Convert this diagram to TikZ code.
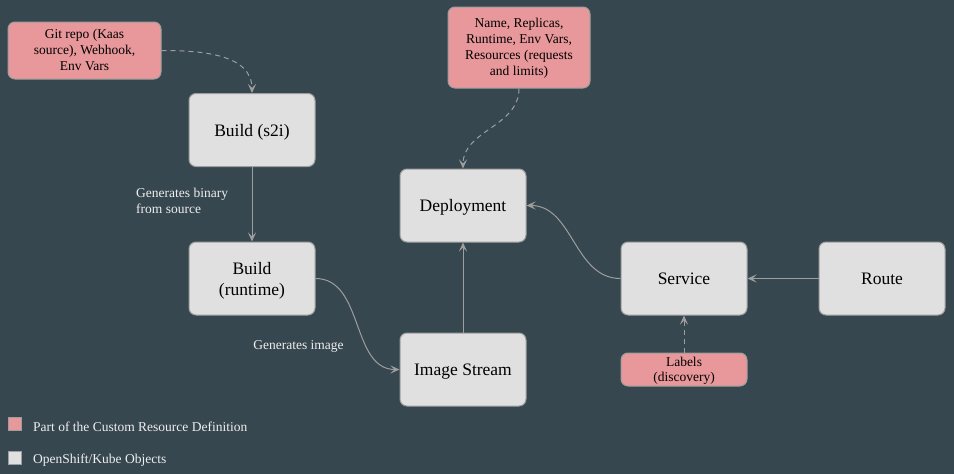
\documentclass[tikz,border=0pt]{standalone}
\usepackage{fontspec}
\setmainfont{Liberation Serif}
\usetikzlibrary{arrows.meta}
\definecolor{bgc}{HTML}{37474F}
\definecolor{objc}{HTML}{E0E0E0}
\definecolor{crdc}{HTML}{E8989A}
\definecolor{edgec}{HTML}{9E9E9E}
\definecolor{txtc}{HTML}{EEEEEE}
\begin{document}
\begin{tikzpicture}[x=1pt,y=-1pt,
  obj/.style={draw=edgec, fill=objc, rounded corners=7pt, minimum width=126pt, minimum height=73pt, align=center, font=\fontsize{17.5}{21}\selectfont, line width=1pt, inner sep=2pt, text=black, text depth=0pt},
  crd/.style={draw=edgec, fill=crdc, rounded corners=7pt, align=center, font=\fontsize{13.5}{16}\selectfont, line width=1pt, inner sep=2pt, text=black, text depth=1pt},
  conn/.style={draw=edgec, line width=1pt, -{Stealth[length=9pt,width=8pt,inset=4pt]}},
  dconn/.style={conn, dash pattern=on 5pt off 4pt},
  elabel/.style={text=txtc, font=\fontsize{13.5}{15.5}\selectfont, align=left, inner sep=0pt},
  legsq/.style={draw=edgec, line width=1pt, minimum width=13pt, minimum height=13pt, inner sep=0pt}
]
\fill[bgc] (0,0) rectangle (954,474);
\useasboundingbox (0,0) rectangle (954,474);

\node[crd, minimum width=153pt, minimum height=57pt] (git) at (84.5,50.5) {Git repo (Kaas\\source), Webhook,\\Env Vars};
\node[crd, minimum width=142pt, minimum height=81pt] (spec) at (519,47.5) {Name, Replicas,\\Runtime, Env Vars,\\Resources (requests\\and limits)};
\node[crd, minimum width=126pt, minimum height=33pt, font=\fontsize{13.5}{15}\selectfont] (labels) at (684,369.5) {Labels\\(discovery)};

\node[obj] (s2i) at (252,130) {Build (s2i)};
\node[obj] (runtime) at (252,278.5) {Build\\(runtime)};
\node[obj] (deploy) at (463,205.5) {Deployment};
\node[obj] (image) at (463,369.5) {Image Stream};
\node[obj] (service) at (684,278.5) {Service};
\node[obj] (route) at (882,278.5) {Route};

\node[elabel, anchor=west] (gbin) at (136,201) {Generates binary\\from source};
\node[elabel] (gimg) at (298.5,346.5) {Generates image};

\draw[dconn] (git.east) to[out=0,in=90] (s2i.north);
\draw[conn] (s2i) -- (runtime);
\draw[conn] (runtime.east) to[out=0,in=180] (image.west);
\draw[conn] (image) -- (deploy);
\draw[dconn] (spec.south) to[out=-90,in=90] (deploy.north);
\draw[conn] (service.west) to[out=180,in=0] (deploy.east);
\draw[conn] (route) -- (service);
\draw[dconn] (labels) -- (service);

\node[legsq, fill=crdc] (lcrd) at (14.5,423.5) {};
\node[legsq, fill=objc] (lobj) at (14.5,457.5) {};
\node[elabel, anchor=west] (tcrd) at (33,426.5) {Part of the Custom Resource Definition};
\node[elabel, anchor=west] (tobj) at (33,460.5) {OpenShift/Kube Objects};
\end{tikzpicture}
\end{document}
